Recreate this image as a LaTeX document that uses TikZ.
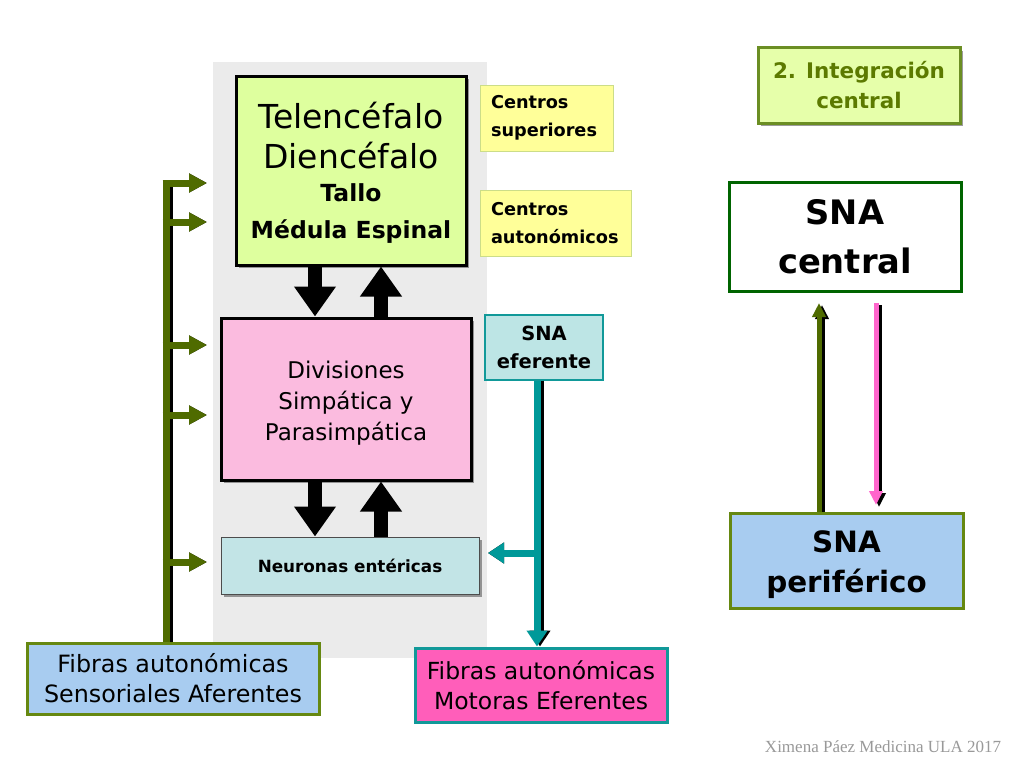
\documentclass[tikz,border=0pt]{standalone}
\usepackage{fontspec}
\setmainfont{DejaVu Sans}
\newfontfamily\timesf{Liberation Serif}
\usetikzlibrary{arrows.meta,shadows}
\definecolor{panelgrey}{HTML}{EBEBEB}
\definecolor{lgreen}{HTML}{DEFF9E}
\definecolor{lpink}{HTML}{FBBBDF}
\definecolor{lcyan}{HTML}{C2E4E6}
\definecolor{efcyan}{HTML}{BDE5E5}
\definecolor{tealc}{HTML}{119999}
\definecolor{lyellow}{HTML}{FFFF99}
\definecolor{yborder}{HTML}{CCDD88}
\definecolor{lblue}{HTML}{A8CCF0}
\definecolor{olive}{HTML}{668811}
\definecolor{hotpink}{HTML}{FF5EBA}
\definecolor{intfill}{HTML}{E6FFAA}
\definecolor{intborder}{HTML}{6B8E23}
\definecolor{inttext}{HTML}{5C7A00}
\definecolor{dgreen}{HTML}{006400}
\definecolor{oarrow}{HTML}{4F6B00}
\definecolor{tarrow}{HTML}{009999}
\definecolor{parrow}{HTML}{FF66CC}
\definecolor{footgrey}{HTML}{999999}
\tikzset{
  box/.style={rectangle, inner sep=0pt, align=center, text=black},
  shad/.style={drop shadow={shadow xshift=3pt, shadow yshift=-3pt, opacity=0.55, fill=black!70}},
  fatarrow/.style={line width=14pt, -{Triangle[width=40pt,length=30pt]}, black},
  gshadow/.style={line width=7pt, black, -{Triangle[width=18pt,length=18pt]}},
  garrow/.style={line width=7pt, oarrow, -{Triangle[width=18pt,length=18pt]}},
  tshadow/.style={line width=7pt, black, -{Triangle[width=20pt,length=16pt]}},
  tarr/.style={line width=7pt, tarrow, -{Triangle[width=20pt,length=16pt]}},
}
\newcommand{\bigf}{\fontsize{33}{40}\selectfont}
\newcommand{\midf}{\bfseries\fontsize{23.5}{35}\selectfont}
\begin{document}
\begin{tikzpicture}[x=1pt,y=-1pt]
\useasboundingbox (0,0) rectangle (1024,768);
\fill[white] (0,0) rectangle (1024,768);
% grey panel
\fill[panelgrey] (213,62) rectangle (487,658);

% central boxes
\node[box, shad, draw=black, line width=3pt, fill=lgreen, minimum width=230pt, minimum height=189pt] (tel) at (351,170.5) {};
\node[box, font=\fontsize{33}{40}\selectfont] (telt) at ([yshift=-2pt]tel.center)
  {\bigf Telencéfalo\\\bigf Diencéfalo\\[-7pt]\midf Tallo\\[-3pt]\midf Médula Espinal};
\node[box, shad, draw=black, line width=3pt, fill=lpink, minimum width=250pt, minimum height=162pt] (div) at (346,399) {};
\node[box, font=\fontsize{23}{31}\selectfont] (divt) at ([yshift=-4pt]div.center)
  {Divisiones\\Simpática y\\Parasimpática};
\node[box, shad, draw=black!70, line width=1pt, fill=lcyan, minimum width=258pt, minimum height=57pt, font=\bfseries\fontsize{16.8}{20}\selectfont] (ent) at (350,565.5)
  {Neuronas entéricas};

% fat black arrows
\draw[fatarrow] (315,0 |- tel.south) -- (315,0 |- div.north);
\draw[fatarrow] (381,0 |- div.north) -- (381,0 |- tel.south);
\draw[fatarrow] (315,0 |- div.south) -- (315,0 |- ent.north);
\draw[fatarrow] (381,0 |- ent.north) -- (381,0 |- div.south);

% side labels
\node[box, draw=yborder, line width=1pt, fill=lyellow, minimum width=133pt, minimum height=66pt, align=left, text width=111pt, font=\bfseries\fontsize{17.7}{28}\selectfont] (csup) at (546.5,118)
  {Centros\\superiores};
\node[box, draw=yborder, line width=1pt, fill=lyellow, minimum width=151pt, minimum height=66pt, align=left, text width=129pt, font=\bfseries\fontsize{17.7}{28}\selectfont] (caut) at (555.5,223)
  {Centros\\autonómicos};
\node[box, draw=tealc, line width=1.2pt, fill=efcyan, minimum width=118pt, minimum height=65pt, font=\bfseries\fontsize{19.5}{28}\selectfont] (efe) at (544,347.5)
  {SNA\\eferente};

% bottom boxes
\node[box, draw=olive, line width=3pt, fill=lblue, minimum width=292pt, minimum height=71pt, font=\fontsize{23.8}{30}\selectfont] (faf) at (173,678.5)
  {Fibras autonómicas\\Sensoriales Aferentes};
\node[box, draw=tealc, line width=3pt, fill=hotpink, minimum width=252pt, minimum height=74pt, font=\fontsize{23.5}{30}\selectfont] (fef) at (541,685)
  {Fibras autonómicas\\Motoras Eferentes};

% right side
\node[box, shad, draw=intborder, line width=3pt, fill=intfill, minimum width=202pt, minimum height=75pt, text=inttext, font=\bfseries\fontsize{21.5}{30}\selectfont] (int) at (859,85.5)
  {2. Integración\\central};
\node[box, draw=dgreen, line width=3pt, fill=white, minimum width=232pt, minimum height=109pt, font=\bfseries\fontsize{33.7}{49}\selectfont] (cen) at (845,236.5)
  {SNA\\central};
\node[box, draw=olive, line width=3pt, fill=lblue, minimum width=233pt, minimum height=95pt] (per) at (846.5,560.5) {};
\node[box, font=\bfseries\fontsize{29.4}{40}\selectfont] (pert) at ([yshift=-4pt]per.center)
  {SNA\\periférico};

% green afferent tree
\coordinate (g1) at (207,183);
\coordinate (g2) at (207,222);
\coordinate (g3) at (207,345);
\coordinate (g4) at (207,415);
\coordinate (g5) at (207,562);
\begin{scope}[shift={(3,3)}]
  \draw[line width=7pt, black] (166,0 |- faf.north) -- (166,180);
  \foreach \c in {g1,g2,g3,g4,g5} \draw[gshadow] (166,0 |- \c) -- (\c);
\end{scope}
\draw[line width=7pt, oarrow] (166,0 |- faf.north) -- (166,179.5);
\foreach \c in {g1,g2,g3,g4,g5} \draw[garrow] (162.5,0 |- \c) -- (\c);

% teal efferent tree
\coordinate (tb) at (537,553);
\coordinate (tl) at (488,553);
\begin{scope}[shift={(3,3)}]
  \draw[tshadow] (537,0 |- efe.south) -- (537,0 |- fef.north);
  \draw[tshadow] (tb) -- (tl);
\end{scope}
\draw[tarr] (537,0 |- efe.south) -- (537,0 |- fef.north);
\draw[tarr] (tb) -- (tl);

% right arrows
\begin{scope}[shift={(3,2)}]
  \draw[line width=5pt, black, -{Triangle[width=13pt,length=14pt]}] (819,0 |- per.north) -- (819,303);
  \draw[line width=5pt, black, -{Triangle[width=13pt,length=14pt]}] (876,303) -- (876,505);
\end{scope}
\draw[line width=5pt, oarrow, -{Triangle[width=13pt,length=14pt]}] (819,0 |- per.north) -- (819,303);
\draw[line width=5pt, parrow, -{Triangle[width=13pt,length=14pt]}] (876,303) -- (876,505);

% footer
\node[text=footgrey, font=\timesf\fontsize{17}{20}\selectfont, inner sep=0pt] (foot) at (883,747) {Ximena Páez Medicina ULA 2017};
\end{tikzpicture}
\end{document}
